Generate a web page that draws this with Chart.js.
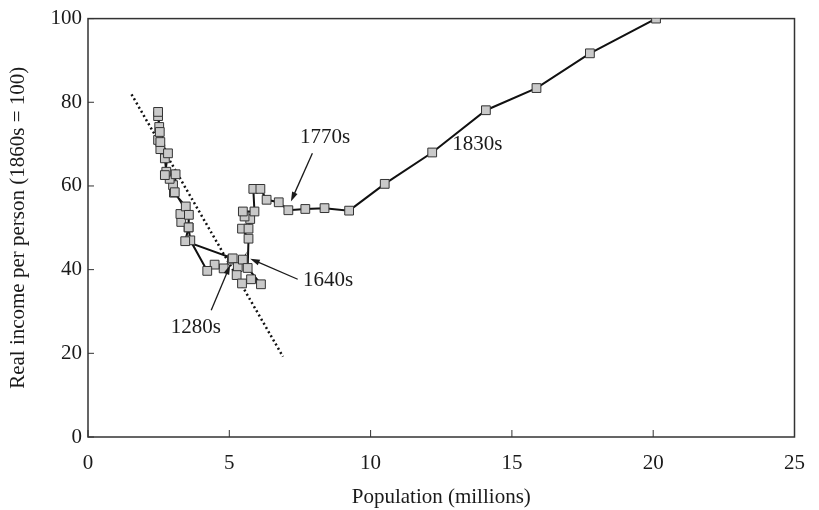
<!DOCTYPE html>
<html>
<head>
<meta charset="utf-8">
<script src="https://cdn.jsdelivr.net/npm/chart.js@4.4.1/dist/chart.umd.min.js"></script>
<style>
    html, body { margin: 0; padding: 0; background: #fff; }
    #chart { display: block; }
</style>
</head>
<body>
<canvas id="chart" width="819" height="510"></canvas>
<script>
// population (millions) and real income per person (1860s = 100), decade by decade
const population = [
    5.09, 4.80, 4.48, 4.22, 3.62, 3.56, 3.30, 3.27, 3.46, 3.04,
    3.01, 2.89, 2.77, 2.72, 2.56, 2.48, 2.52, 2.48, 2.48, 2.54,
    2.56, 2.83, 2.72, 3.10, 3.07, 3.57, 3.56, 3.44, 5.12, 5.30,
    5.48, 5.26, 5.45, 5.77, 6.12, 5.65, 5.68, 5.45, 5.68, 5.74,
    5.54, 5.48, 5.89, 5.85, 6.10, 6.32, 6.75, 7.09, 7.69, 8.37,
    9.24, 10.50, 12.18, 14.08, 15.87, 17.76, 20.10
];
const income = [
    42.4, 40.3, 41.2, 39.7, 47.0, 50.1, 51.4, 53.3, 55.1, 58.4,
    60.2, 61.7, 63.4, 66.6, 68.8, 71.0, 74.1, 76.7, 77.7, 72.9,
    70.5, 67.8, 62.6, 62.8, 58.5, 53.1, 50.1, 46.8, 42.7, 40.6,
    42.4, 38.7, 36.7, 37.7, 36.5, 40.4, 47.4, 49.8, 49.8, 52.1,
    52.7, 53.9, 53.9, 59.3, 59.3, 56.7, 56.1, 54.2, 54.5, 54.7,
    54.1, 60.5, 68.0, 78.1, 83.4, 91.7, 100.0
];

// dotted trend line end points
const trendPopulation = [1.54, 6.90];
const trendIncome = [81.9, 19.2];

const xTicks = [0, 5, 10, 15, 20, 25];
const yTicks = [0, 20, 40, 60, 80, 100];

const FONT_FAMILY = "'Liberation Serif', 'Times New Roman', serif";
const INK = '#1a1a1a';

// decade callouts: text anchor and optional arrow, in data units
const callouts = [
    { text: '1830s', at: [13.78, 69.9] },
    { text: '1770s', at: [8.39, 71.7], from: [7.94, 67.8], to: [7.18, 56.3] },
    { text: '1640s', at: [8.50, 37.4], from: [7.42, 37.7], to: [5.74, 42.6] },
    { text: '1280s', at: [3.82, 26.1], from: [4.36, 30.3], to: [5.03, 41.1] }
];

const toPoints = (xs, ys) => xs.map((x, i) => ({ x: x, y: ys[i] }));

const drawArrow = (ctx, x1, y1, x2, y2) => {
    const angle = Math.atan2(y2 - y1, x2 - x1);
    const head = 10;
    ctx.beginPath();
    ctx.moveTo(x1, y1);
    ctx.lineTo(x2 - Math.cos(angle) * head * 0.8, y2 - Math.sin(angle) * head * 0.8);
    ctx.stroke();
    ctx.beginPath();
    ctx.moveTo(x2, y2);
    ctx.lineTo(x2 - head * Math.cos(angle - 0.3), y2 - head * Math.sin(angle - 0.3));
    ctx.lineTo(x2 - head * Math.cos(angle + 0.3), y2 - head * Math.sin(angle + 0.3));
    ctx.closePath();
    ctx.fill();
};

const framePlugin = {
    id: 'frame',
    beforeDatasetsDraw(chart) {
        const { ctx, chartArea, scales } = chart;
        ctx.save();
        ctx.strokeStyle = '#333';
        ctx.lineWidth = 1.5;
        ctx.strokeRect(chartArea.left, chartArea.top, chartArea.right - chartArea.left, chartArea.bottom - chartArea.top);
        ctx.lineWidth = 1;
        for (let v of xTicks) {
            let px = scales.x.getPixelForValue(v);
            ctx.beginPath();
            ctx.moveTo(px, chartArea.bottom);
            ctx.lineTo(px, chartArea.bottom - 7);
            ctx.stroke();
        }
        for (let v of yTicks) {
            let py = scales.y.getPixelForValue(v);
            ctx.beginPath();
            ctx.moveTo(chartArea.left, py);
            ctx.lineTo(chartArea.left + 6, py);
            ctx.stroke();
        }
        ctx.restore();
    }
};

const calloutPlugin = {
    id: 'callouts',
    afterDatasetsDraw(chart) {
        const { ctx, scales } = chart;
        ctx.save();
        ctx.fillStyle = INK;
        ctx.strokeStyle = INK;
        ctx.lineWidth = 1.3;
        ctx.font = '21px ' + FONT_FAMILY;
        ctx.textAlign = 'center';
        ctx.textBaseline = 'middle';
        for (let c of callouts) {
            ctx.fillText(c.text, scales.x.getPixelForValue(c.at[0]), scales.y.getPixelForValue(c.at[1]));
            if (c.from) {
                drawArrow(ctx,
                    scales.x.getPixelForValue(c.from[0]), scales.y.getPixelForValue(c.from[1]),
                    scales.x.getPixelForValue(c.to[0]), scales.y.getPixelForValue(c.to[1]));
            }
        }
        ctx.restore();
    }
};

const tickFont = { family: FONT_FAMILY, size: 21 };

new Chart(document.getElementById('chart'), {
    type: 'line',
    data: {
        datasets: [
            {
                data: toPoints(trendPopulation, trendIncome),
                borderColor: '#111',
                borderWidth: 2.5,
                borderDash: [2, 2.8],
                pointRadius: 0,
                tension: 0,
                order: 2
            },
            {
                data: toPoints(population, income),
                borderColor: '#111',
                borderWidth: 2,
                pointStyle: 'rect',
                pointRadius: 6.2,
                pointBackgroundColor: '#c9c9c9',
                pointBorderColor: '#333',
                pointBorderWidth: 1,
                tension: 0,
                order: 1
            }
        ]
    },
    options: {
        responsive: false,
        animation: false,
        layout: { padding: { left: 0, top: 16, right: 22, bottom: 0 } },
        plugins: { legend: { display: false }, tooltip: { enabled: false } },
        scales: {
            x: {
                type: 'linear',
                min: 0,
                max: 25,
                afterFit: (scale) => { scale.height = 73; },
                afterBuildTicks: (scale) => { scale.ticks = xTicks.map(v => ({ value: v })); },
                grid: { display: false, drawTicks: false },
                border: { display: false },
                ticks: { font: tickFont, color: INK, padding: 14, maxRotation: 0 },
                title: { display: true, text: 'Population (millions)', font: tickFont, color: INK, padding: { top: 0, bottom: 0 } }
            },
            y: {
                type: 'linear',
                min: 0,
                max: 100,
                afterFit: (scale) => { scale.width = 88; },
                afterBuildTicks: (scale) => { scale.ticks = yTicks.map(v => ({ value: v })); },
                grid: { display: false, drawTicks: false },
                border: { display: false },
                ticks: { font: tickFont, color: INK, padding: 6 },
                title: { display: true, text: 'Real income per person (1860s = 100)', font: tickFont, color: INK, padding: { top: 6, bottom: 0 } }
            }
        }
    },
    plugins: [framePlugin, calloutPlugin]
});
</script>
</body>
</html>
